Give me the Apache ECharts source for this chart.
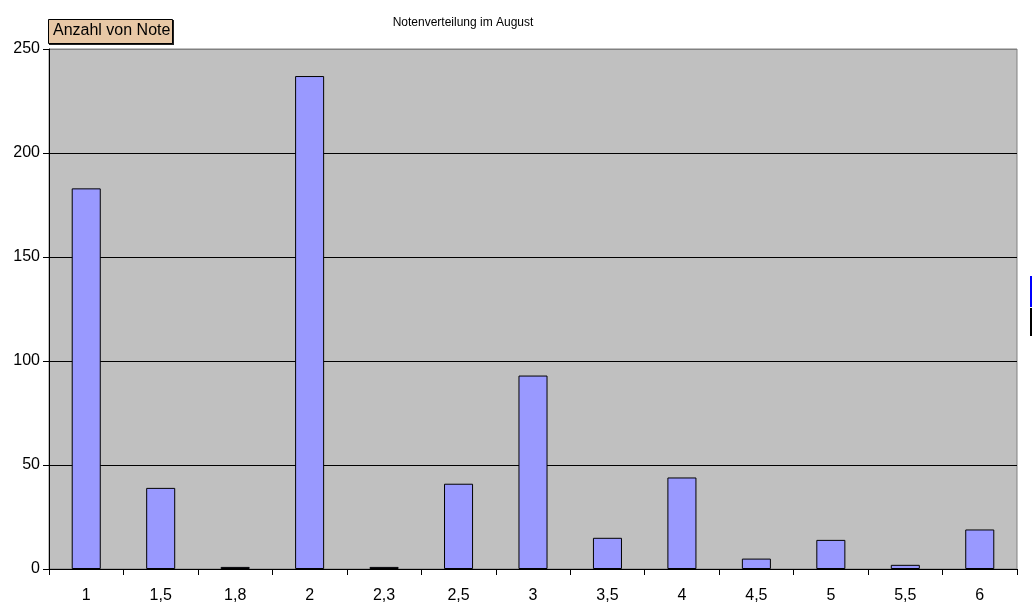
<!DOCTYPE html>
<html>
<head>
<meta charset="utf-8">
<script src="https://cdn.jsdelivr.net/npm/echarts@6/dist/echarts.min.js"></script>
<style>
html,body{margin:0;padding:0;background:#fff;}
#c{width:1032px;height:615px;}
</style>
</head>
<body>
<div id="c"></div>
<script>
const categories = ['1','1,5','1,8','2','2,3','2,5','3','3,5','4','4,5','5','5,5','6'];
const counts = [183, 39, 1, 237, 1, 41, 93, 15, 44, 5, 14, 2, 19];
const yTicks = [0, 50, 100, 150, 200, 250];

const chart = echarts.init(document.getElementById('c'), null, {renderer: 'canvas'});
chart.setOption({
  animation: false,
  backgroundColor: '#ffffff',
  title: {
    text: 'Notenverteilung im August',
    left: 458, top: 12, textAlign: 'center',
    textStyle: {fontFamily: 'Liberation Sans', fontSize: 12, fontWeight: 'normal', color: '#000'}
  },
  grid: {
    left: 49, top: 49, width: 968, height: 520,
    show: true, backgroundColor: '#c0c0c0', borderColor: '#808080', borderWidth: 1,
    containLabel: false
  },
  xAxis: {
    type: 'category',
    data: categories,
    axisLine: {lineStyle: {color: '#000', width: 1}},
    axisTick: {show: true, length: 6, lineStyle: {color: '#000'}},
    axisLabel: {color: '#000', fontFamily: 'Liberation Sans', fontSize: 16, margin: 19}
  },
  yAxis: {
    type: 'value',
    min: yTicks[0], max: yTicks[yTicks.length - 1], interval: 50,
    axisLine: {show: true, lineStyle: {color: '#000', width: 1}},
    axisTick: {show: true, length: 6, lineStyle: {color: '#000'}},
    axisLabel: {color: '#000', fontFamily: 'Liberation Sans', fontSize: 16, margin: 9},
    splitLine: {show: true, lineStyle: {color: ['#000','#000','#000','#000','#000','#808080'], width: 1}}
  },
  series: [{
    type: 'bar',
    data: counts,
    barWidth: '39%',
    itemStyle: {color: '#9999ff', borderColor: '#000', borderWidth: 1}
  }],
  graphic: [
    {type: 'rect', shape: {x: 49, y: 20, width: 125, height: 25}, style: {fill: '#222'}},
    {type: 'rect', shape: {x: 48.5, y: 19.5, width: 124, height: 24}, style: {fill: '#e8c8a6', stroke: '#000', lineWidth: 1}},
    {type: 'text', left: 53, top: 23, style: {text: 'Anzahl von Note', fontFamily: 'Liberation Sans', fontSize: 16, fill: '#000'}},
    {type: 'rect', shape: {x: 1030, y: 276, width: 2, height: 31}, style: {fill: '#0000ff'}},
    {type: 'rect', shape: {x: 1030, y: 308, width: 2, height: 28}, style: {fill: '#000'}}
  ]
});
</script>
</body>
</html>
